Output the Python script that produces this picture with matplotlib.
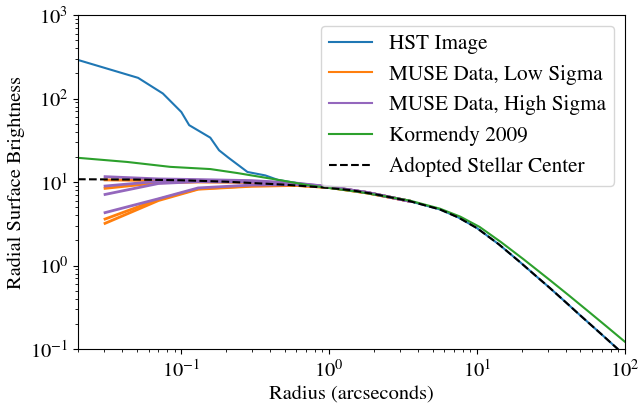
import matplotlib
matplotlib.use("Agg")
from matplotlib import pyplot as plt

plt.rcParams['font.family'] = ['STIXGeneral', 'DejaVu Serif']
plt.rcParams['mathtext.fontset'] = 'stix'
plt.rcParams['font.size'] = 14.7

# HST image profile
hst_r = [0.02, 0.051, 0.075, 0.1, 0.113, 0.157, 0.18, 0.208, 0.28, 0.37, 0.45, 0.7, 1.0,
         1.4, 2.0, 3.5, 5.6, 7.5, 10, 14, 19.5, 25, 31, 40, 49.7, 70, 90]
hst_sb = [290, 177, 115, 69, 48, 34, 24, 19.6, 13.2, 12.0, 10.6, 9.3, 8.5,
          8.0, 7.2, 5.9, 4.7, 3.75, 2.8, 1.8, 1.1, 0.75, 0.54, 0.36, 0.254, 0.148, 0.099]

# MUSE profiles
muse_r = [0.0305, 0.07, 0.13, 0.3, 0.6, 1.0, 1.8, 3.5]
muse_low = [
    [3.2, 6.0, 8.2, 8.9, 9.1, 8.6, 7.4, 5.9],
    [3.6, 6.2, 8.3, 9.0, 9.1, 8.6, 7.4, 5.9],
    [8.4, 9.8, 10.0, 9.9, 9.4, 8.7, 7.5, 5.9],
    [10.6, 10.4, 10.3, 10.0, 9.5, 8.7, 7.5, 5.9],
]
muse_high = [
    [4.3, 6.3, 8.5, 9.2, 9.3, 8.7, 7.5, 5.9],
    [7.1, 9.6, 10.1, 10.0, 9.5, 8.7, 7.5, 5.9],
    [8.95, 10.2, 10.4, 10.2, 9.6, 8.8, 7.5, 5.9],
    [11.6, 10.9, 10.7, 10.4, 9.7, 8.8, 7.5, 5.9],
]

# Kormendy 2009
kor_r = [0.02, 0.043, 0.084, 0.157, 0.24, 0.47, 0.74, 1.6, 3.5, 5.6, 7.7, 10.4,
         14.5, 20.6, 31, 42, 58, 76, 100]
kor_sb = [19.5, 17.4, 15.2, 14.3, 12.8, 10.5, 9.1, 7.6, 6.0, 4.8, 3.85, 2.9,
          1.91, 1.19, 0.671, 0.435, 0.272, 0.183, 0.122]

# adopted stellar center
adopt_r = [0.02, 0.05, 0.1, 0.2, 0.5, 1.0, 1.4, 2.0, 3.5, 5.6, 7.5, 10, 14, 19.5,
           25, 31, 40, 49.7, 70, 90]
adopt_sb = [10.8, 10.7, 10.5, 10.1, 9.3, 8.5, 8.0, 7.2, 5.9, 4.7, 3.75, 2.8, 1.8, 1.1,
            0.75, 0.54, 0.36, 0.254, 0.148, 0.099]

fig = plt.figure(figsize=(6.39, 4.07), dpi=100)
ax = fig.add_axes([0.122, 0.1425, 0.856, 0.8205])

ax.plot(hst_r, hst_sb, color='C0', label='HST Image')
for i, sb in enumerate(muse_low):
    ax.plot(muse_r, sb, color='C1', lw=2, label='MUSE Data, Low Sigma' if i == 0 else None)
for i, sb in enumerate(muse_high):
    ax.plot(muse_r, sb, color='C4', lw=2, label='MUSE Data, High Sigma' if i == 0 else None)
ax.plot(kor_r, kor_sb, color='C2', label='Kormendy 2009')
ax.plot(adopt_r, adopt_sb, 'k--', label='Adopted Stellar Center')

ax.set_xscale('log')
ax.set_yscale('log')
ax.set_xlim(0.02, 100)
ax.set_ylim(0.1, 1000)
ax.set_xlabel('Radius (arcseconds)')
ax.set_ylabel('Radial Surface Brightness')
leg = ax.legend(loc='upper right', fontsize=15.3)
for line in leg.get_lines():
    line.set_linewidth(1.5)

plt.savefig('out.png', dpi=100)
